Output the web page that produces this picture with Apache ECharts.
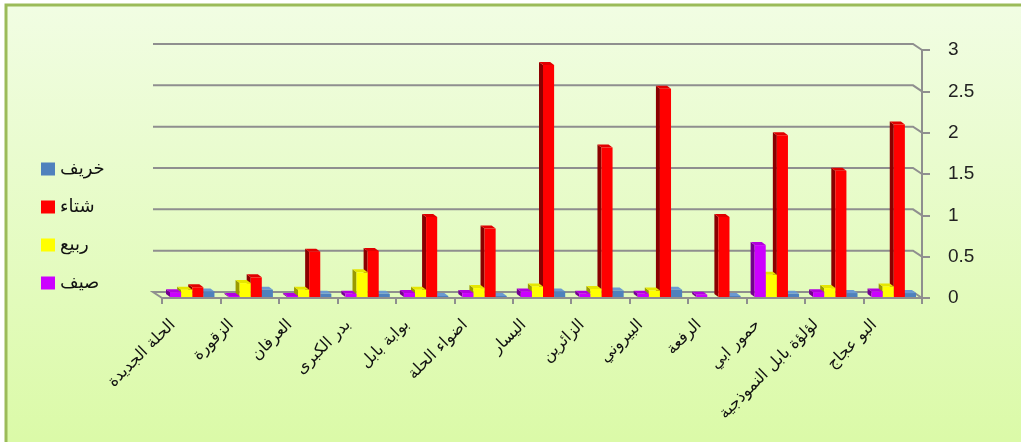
<!DOCTYPE html>
<html>
<head>
<meta charset="utf-8">
<script src="https://cdn.jsdelivr.net/npm/echarts@6/dist/echarts.min.js"></script>
<style>
  html, body { margin: 0; padding: 0; background: #ffffff; overflow: hidden; }
  #chart { width: 1021px; height: 442px; }
</style>
</head>
<body>
<div id="chart"></div>
<script>
// Schools (category axis, left to right)
const categories = [
  'الحلة الجديدة', 'الزقورة', 'العرفان', 'بدر الكبرى', 'بوابة بابل', 'اضواء الحلة',
  'اليسار', 'الزائرين', 'البيروني', 'الرفعة', 'حمور ابي', 'لؤلؤة بابل النموذجية', 'البو عجاج'
];

// Seasonal values per school
const summer = [0.07, 0.02, 0.02, 0.05, 0.06, 0.06, 0.08, 0.05, 0.05, 0.04, 0.64, 0.07, 0.08]; // صيف
const spring = [0.10, 0.18, 0.10, 0.31, 0.10, 0.12, 0.14, 0.11, 0.09, 0.00, 0.28, 0.12, 0.14]; // ربيع
const winter = [0.13, 0.25, 0.56, 0.57, 0.98, 0.84, 2.82, 1.82, 2.53, 0.98, 1.97, 1.54, 2.10]; // شتاء
const autumn = [0.08, 0.10, 0.05, 0.05, 0.01, 0.02, 0.08, 0.09, 0.10, 0.02, 0.05, 0.06, 0.06]; // خريف

// Value axis ticks
const yTicks = [0, 0.5, 1, 1.5, 2, 2.5, 3];

const seriesDefs = [
  { name: 'صيف',  data: summer, front: '#cc00ff', side: '#74008f', top: '#b300e0' },
  { name: 'ربيع', data: spring, front: '#ffff00', side: '#9a9a00', top: '#e6e600' },
  { name: 'شتاء', data: winter, front: '#ff0000', side: '#8a0000', top: '#e00000' },
  { name: 'خريف', data: autumn, front: '#4f81bd', side: '#2d5888', top: '#6b9ad2' }
];

// depth of the back wall and of each bar
const WALL_DX = -9, WALL_DY = -6;
const BAR_DX = -4, BAR_DY = -3;

function barRenderer(idx, def) {
  return function (params, api) {
    const cat = api.value(0), v = api.value(1);
    if (!(v > 0)) return null;
    const base = api.coord([cat, 0]);
    const top = api.coord([cat, v]);
    const band = api.size([1, 0])[0];
    const bw = band * 0.19;
    const x = base[0] - 2 * bw + idx * bw + 1;
    const yb = base[1] - 1;
    const yt = Math.min(top[1], yb - 1);
    return {
      type: 'group',
      children: [
        { type: 'polygon', shape: { points: [[x, yt], [x + BAR_DX, yt + BAR_DY], [x + BAR_DX, yb + BAR_DY], [x, yb]] },
          style: { fill: def.side } },
        { type: 'polygon', shape: { points: [[x, yt], [x + bw, yt], [x + bw + BAR_DX, yt + BAR_DY], [x + BAR_DX, yt + BAR_DY]] },
          style: { fill: def.top } },
        { type: 'rect', shape: { x: x, y: yt, width: bw, height: yb - yt },
          style: { fill: def.front } }
      ]
    };
  };
}

// back-wall gridlines with the short diagonal to the front axis
function gridRenderer(params, api) {
  const v = api.value(0);
  const cs = params.coordSys;
  const p = api.coord([0, v]);
  const y = p[1];
  const x0 = cs.x, x1 = cs.x + cs.width;
  const pts = v === 0
    ? [[x0, y], [x0 + WALL_DX, y + WALL_DY], [x1 + WALL_DX, y + WALL_DY], [x1, y]]
    : [[x0 + WALL_DX, y + WALL_DY], [x1 + WALL_DX, y + WALL_DY], [x1, y]];
  return {
    type: 'polyline',
    shape: { points: pts },
    style: { stroke: '#8f8f8f', lineWidth: 2, fill: null }
  };
}

const chart = echarts.init(document.getElementById('chart'));

const series = [{
  type: 'custom',
  name: 'grid',
  silent: true,
  z: 1,
  renderItem: gridRenderer,
  encode: { y: 0 },
  data: yTicks.map(t => [t])
}];
seriesDefs.forEach((def, i) => {
  series.push({
    type: 'custom',
    name: def.name,
    z: 10 - i,
    color: def.front,
    renderItem: barRenderer(i, def),
    encode: { x: 0, y: 1 },
    data: def.data.map((v, j) => [j, v])
  });
});

chart.setOption({
  animation: false,
  backgroundColor: '#ffffff',
  graphic: [{
    type: 'rect',
    z: -10,
    silent: true,
    shape: { x: 6, y: 5, width: 1100, height: 500 },
    style: {
      fill: new echarts.graphic.LinearGradient(0, 0, 0, 0.87, [
        { offset: 0, color: '#f1fde3' },
        { offset: 1, color: '#dbfaa8' }
      ])
    }
  }, {
    // chart-area frame: only its top and left edges fall inside the page
    type: 'polyline',
    z: -9,
    silent: true,
    shape: { points: [[6, 460], [6, 5], [1040, 5]] },
    style: { stroke: '#9bbb59', lineWidth: 3, fill: null }
  }],
  legend: {
    orient: 'vertical',
    left: 36,
    top: 155,
    itemWidth: 14,
    itemHeight: 13,
    itemGap: 20,
    icon: 'rect',
    data: ['خريف', 'شتاء', 'ربيع', 'صيف'],
    textStyle: { fontFamily: 'DejaVu Sans', fontSize: 18, color: '#111' }
  },
  grid: { left: 162, right: 99, top: 50, bottom: 144 },
  xAxis: {
    type: 'category',
    data: categories,
    axisLine: { lineStyle: { color: '#8f8f8f', width: 2 } },
    axisTick: { show: true, length: 6, lineStyle: { color: '#8f8f8f', width: 2 } },
    axisLabel: {
      interval: 0,
      rotate: 45,
      margin: 6,
      padding: [0, 26, 0, 0],
      fontFamily: 'DejaVu Sans',
      fontSize: 16,
      color: '#111'
    },
    splitLine: { show: false }
  },
  yAxis: {
    type: 'value',
    position: 'right',
    min: 0,
    max: 3,
    interval: 0.5,
    axisLine: { show: true, lineStyle: { color: '#8f8f8f', width: 2 } },
    axisTick: { show: true, length: 8, lineStyle: { color: '#8f8f8f', width: 2 } },
    axisLabel: {
      margin: 26,
      fontFamily: 'Liberation Sans',
      fontSize: 19,
      color: '#222'
    },
    splitLine: { show: false }
  },
  series: series
});
</script>
</body>
</html>
